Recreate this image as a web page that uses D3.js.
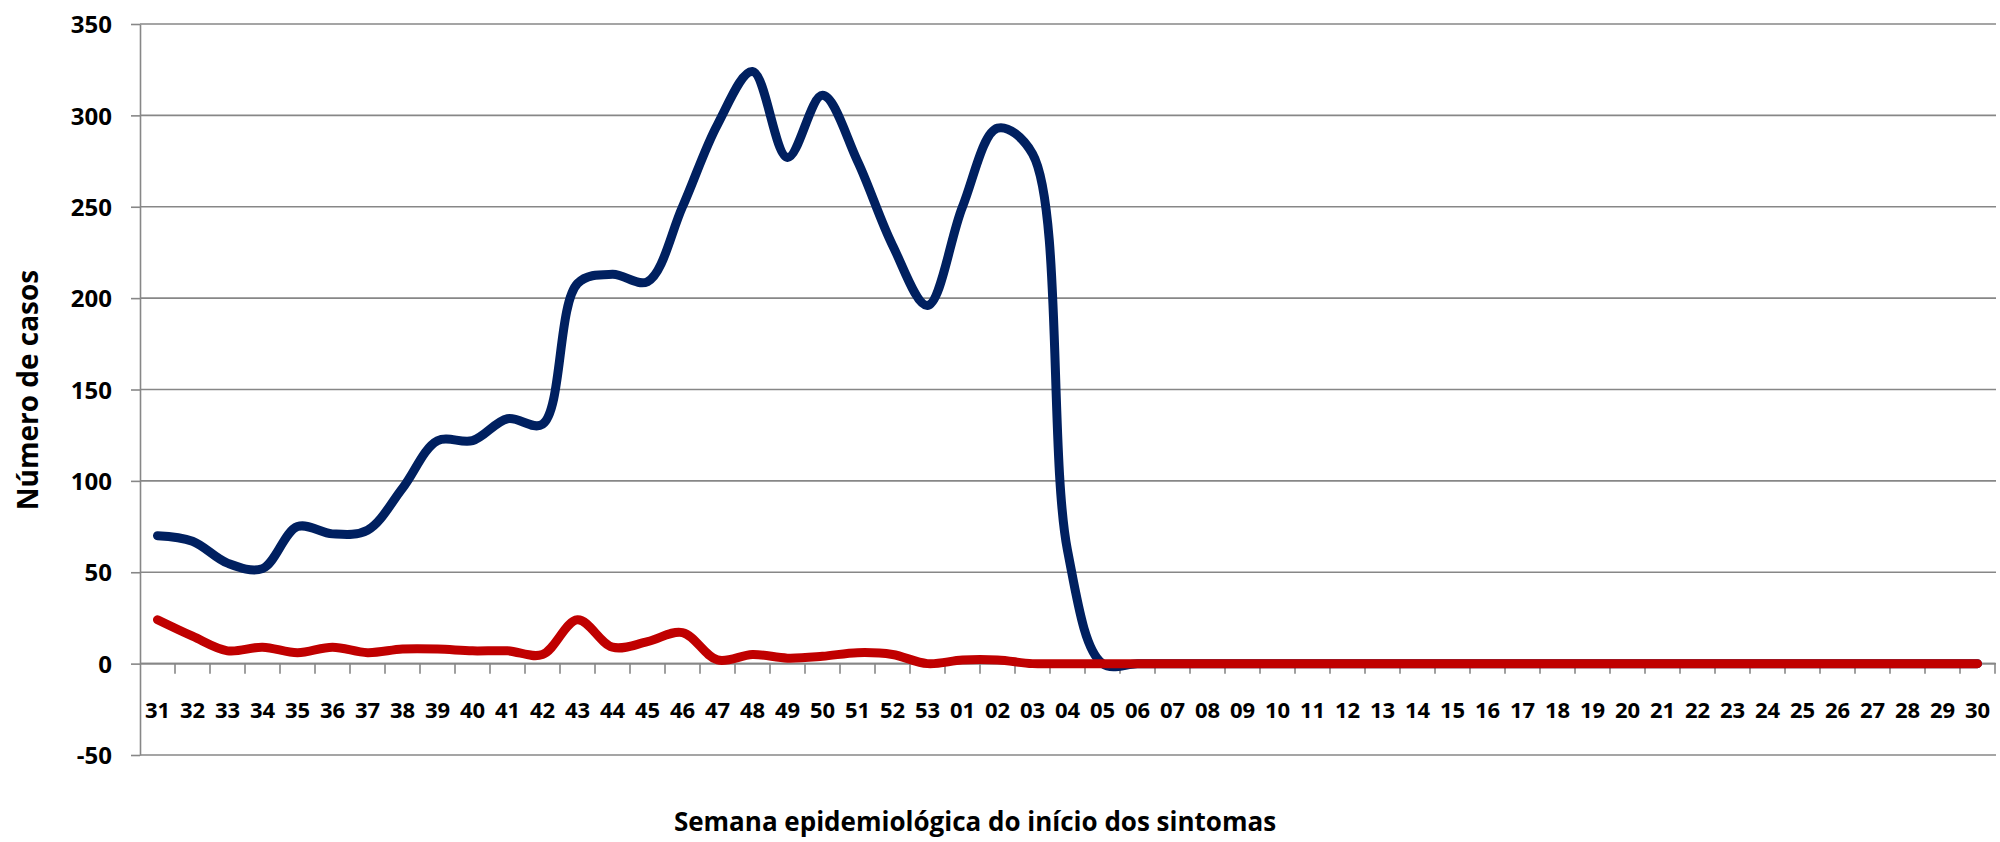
<!DOCTYPE html>
<html>
<head>
<meta charset="utf-8">
<script src="https://cdn.jsdelivr.net/npm/d3@7"></script>
<style>
  html, body { margin: 0; padding: 0; background: #fff; }
  svg { display: block; font-family: "Open Sans", "DejaVu Sans", sans-serif; font-weight: bold; }
</style>
</head>
<body>
<div id="chart"></div>
<script>
// semanas epidemiológicas (31 a 53, depois 01 a 30)
const semanas = ['31','32','33','34','35','36','37','38','39','40','41','42','43','44','45','46','47','48','49','50','51','52','53',
  '01','02','03','04','05','06','07','08','09','10','11','12','13','14','15','16','17','18','19','20','21','22','23','24','25','26','27','28','29','30'];

// série azul
const serieAzul = [70, 67, 55, 52, 75, 71, 73, 96, 122, 122, 134, 131, 208, 213, 209, 250, 295, 324, 277, 311, 275, 229, 196,
  250, 293, 279, 62, 0, 0, 0, 0, 0, 0, 0, 0, 0, 0, 0, 0, 0, 0, 0, 0, 0, 0, 0, 0, 0, 0, 0, 0, 0, 0];

// série vermelha
const serieVermelha = [24, 15, 7, 9, 6, 9, 6, 8, 8, 7, 7, 5, 24, 9, 12, 17, 2, 5, 3, 4, 6, 5, 0,
  2, 2, 0, 0, 0, 0, 0, 0, 0, 0, 0, 0, 0, 0, 0, 0, 0, 0, 0, 0, 0, 0, 0, 0, 0, 0, 0, 0, 0, 0];

const yTicks = [-50, 0, 50, 100, 150, 200, 250, 300, 350];

const W = 2000, H = 842;
const plotLeft = 140, plotRight = 1995, plotTop = 24, plotBottom = 755;
const grey = '#878787';

const svg = d3.select('#chart').append('svg')
  .attr('width', W)
  .attr('height', H);

const x = d3.scaleBand().domain(semanas).range([plotLeft, plotRight]).padding(0);
const y = d3.scaleLinear().domain([-50, 350]).range([plotBottom, plotTop]);
const cx = d => x(d) + x.bandwidth() / 2;

// linhas de grade
svg.append('g')
  .selectAll('line')
  .data(yTicks)
  .join('line')
  .attr('x1', plotLeft)
  .attr('x2', plotRight + 1)
  .attr('y1', d => y(d))
  .attr('y2', d => y(d))
  .attr('stroke', grey)
  .attr('stroke-width', 1.6);

// eixo Y (hífen simples no -50, como no Excel)
const yAxis = svg.append('g')
  .attr('transform', `translate(${plotLeft},0)`)
  .call(d3.axisLeft(y).tickValues(yTicks).tickFormat(d => String(d))
    .tickSize(9).tickSizeOuter(0).tickPadding(19));
yAxis.select('.domain').attr('stroke', grey).attr('stroke-width', 1.6);
yAxis.selectAll('.tick line').attr('stroke', grey).attr('stroke-width', 1.6);
yAxis.selectAll('.tick text')
  .attr('fill', '#000')
  .attr('font-size', 24)
  .attr('font-family', '"Open Sans", sans-serif')
  .attr('font-weight', 'bold')
  .attr('dy', '0.36em');

// eixo X na linha do zero
const y0 = y(0);
svg.append('line')
  .attr('x1', plotLeft).attr('x2', plotRight)
  .attr('y1', y0).attr('y2', y0)
  .attr('stroke', grey).attr('stroke-width', 1.6);

svg.append('g')
  .selectAll('line')
  .data(semanas.slice(1).concat(['fim']))
  .join('line')
  .attr('x1', d => d === 'fim' ? plotRight : x(d))
  .attr('x2', d => d === 'fim' ? plotRight : x(d))
  .attr('y1', y0)
  .attr('y2', y0 + 10)
  .attr('stroke', grey)
  .attr('stroke-width', 1.6);

svg.append('g')
  .selectAll('text')
  .data(semanas)
  .join('text')
  .attr('x', d => cx(d))
  .attr('y', 718)
  .attr('text-anchor', 'middle')
  .attr('font-size', 22)
  .text(d => d);

// séries
const line = d3.line()
  .x((d, i) => cx(semanas[i]))
  .y(d => y(d))
  .curve(d3.curveCatmullRom.alpha(0.5));

svg.append('path')
  .datum(serieAzul)
  .attr('d', line)
  .attr('fill', 'none')
  .attr('stroke', '#002060')
  .attr('stroke-width', 9)
  .attr('stroke-linecap', 'round')
  .attr('stroke-linejoin', 'round');

svg.append('path')
  .datum(serieVermelha)
  .attr('d', line)
  .attr('fill', 'none')
  .attr('stroke', '#C00000')
  .attr('stroke-width', 9)
  .attr('stroke-linecap', 'round')
  .attr('stroke-linejoin', 'round');

// títulos dos eixos
svg.append('text')
  .attr('x', 975)
  .attr('y', 831)
  .attr('text-anchor', 'middle')
  .attr('font-size', 26)
  .text('Semana epidemiológica do início dos sintomas');

svg.append('text')
  .attr('transform', 'translate(38,390) rotate(-90)')
  .attr('text-anchor', 'middle')
  .attr('font-size', 28)
  .text('Número de casos');
</script>
</body>
</html>
